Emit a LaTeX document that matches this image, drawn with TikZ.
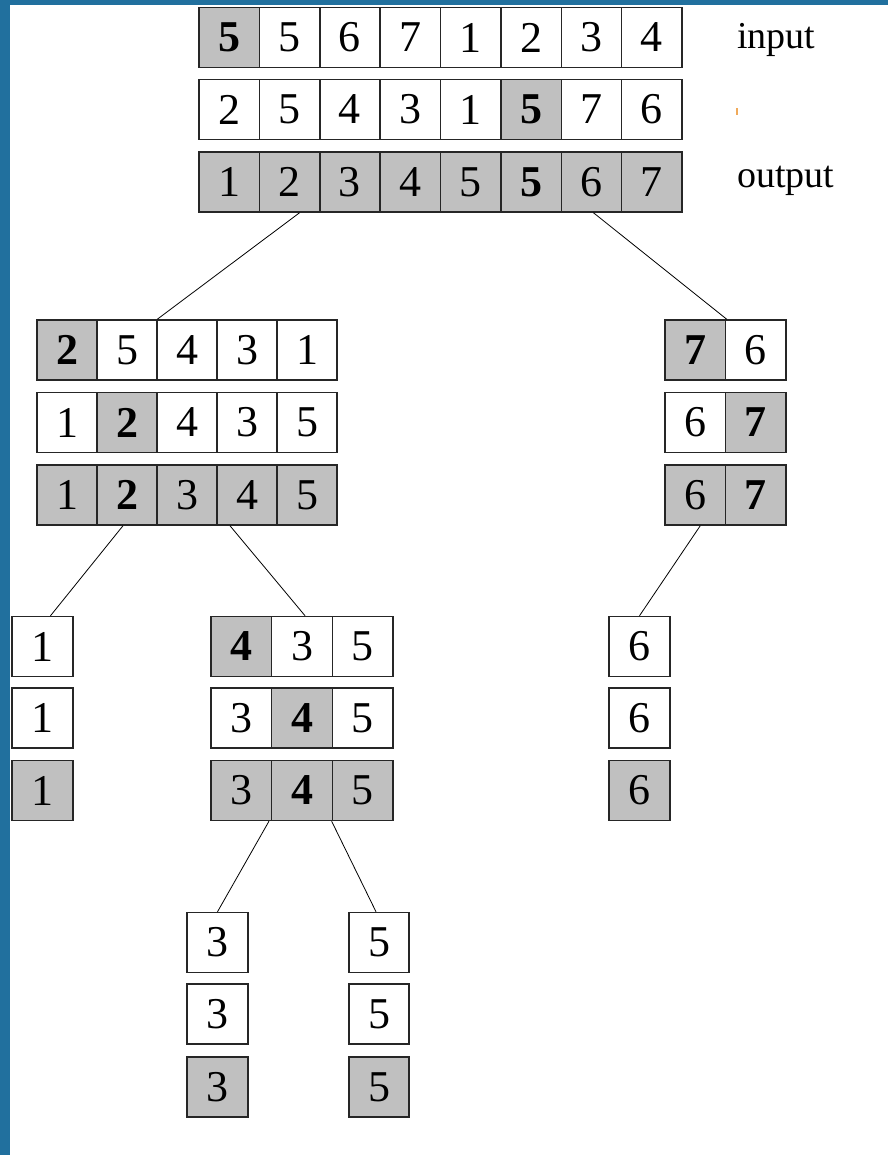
\documentclass[tikz,border=0pt]{standalone}
\usepackage{fontspec}
\setmainfont{Liberation Serif}
\definecolor{cg}{RGB}{192,192,192}
\definecolor{bgblue}{RGB}{33,112,158}
\definecolor{tickorange}{RGB}{240,170,90}
\newcommand\cellrow[5]{%
  \foreach \t/\f [count=\i from 0] in {#5} {
    \node[cell,fill=\f,minimum width=#3pt] (#1\i) at ({#2+#3*(\i+0.5)},#4) {\t};
  }%
}
\begin{document}
\begin{tikzpicture}[x=1pt,y=-1pt,
  cell/.style={draw=black!85,line width=1.5pt,minimum height=60pt,inner sep=0pt,
    font=\fontsize{44}{44}\selectfont},
  lbl/.style={anchor=base west,inner sep=0pt,font=\fontsize{38}{38}\selectfont},
  link/.style={draw=black,line width=0.8pt}]
\useasboundingbox (0,0) rectangle (888,1155);
\fill[bgblue] (0,0) rectangle (888,1155);
\fill[white] (10,5) rectangle (888,1155);
% top level
\cellrow{a}{199}{60.375}{37.5}{\textbf{5}/cg,5/white,6/white,7/white,1/white,2/white,3/white,4/white}
\cellrow{b}{199}{60.375}{109.5}{2/white,5/white,4/white,3/white,1/white,\textbf{5}/cg,7/white,6/white}
\cellrow{c}{199}{60.375}{182}{1/cg,2/cg,3/cg,4/cg,5/cg,\textbf{5}/cg,6/cg,7/cg}
\node[lbl] (inlbl) at (737,49) {input};
\node[lbl] (outlbl) at (737,188) {output};
\fill[tickorange] (736,108) rectangle (737.6,115);
% level 2 left
\cellrow{la}{37}{60}{350}{\textbf{2}/cg,5/white,4/white,3/white,1/white}
\cellrow{lb}{37}{60}{422.5}{1/white,\textbf{2}/cg,4/white,3/white,5/white}
\cellrow{lc}{37}{60}{495}{1/cg,\textbf{2}/cg,3/cg,4/cg,5/cg}
% level 2 right
\cellrow{ra}{665}{60.5}{350}{\textbf{7}/cg,6/white}
\cellrow{rb}{665}{60.5}{422.5}{6/white,\textbf{7}/cg}
\cellrow{rc}{665}{60.5}{495}{6/cg,\textbf{7}/cg}
% level 3
\cellrow{oa}{12}{61}{646.5}{1/white}
\cellrow{ob}{12}{61}{718}{1/white}
\cellrow{oc}{12}{61}{790.5}{1/cg}
\cellrow{ma}{211}{60.7}{646.5}{\textbf{4}/cg,3/white,5/white}
\cellrow{mb}{211}{60.7}{718}{3/white,\textbf{4}/cg,5/white}
\cellrow{mc}{211}{60.7}{790.5}{3/cg,\textbf{4}/cg,5/cg}
\cellrow{sa}{609}{61}{646.5}{6/white}
\cellrow{sb}{609}{61}{718}{6/white}
\cellrow{sc}{609}{61}{790.5}{6/cg}
% level 4
\cellrow{ta}{187}{61}{942.5}{3/white}
\cellrow{tb}{187}{61}{1014}{3/white}
\cellrow{tc}{187}{61}{1087}{3/cg}
\cellrow{fa}{349}{60}{942.5}{5/white}
\cellrow{fb}{349}{60}{1014}{5/white}
\cellrow{fc}{349}{60}{1087}{5/cg}
% connectors
\draw[link] ([xshift=10pt]c1.south) -- ([xshift=1pt]la2.north west);
\draw[link] ([xshift=2pt]c6.south) -- ([xshift=2pt]ra1.north west);
\draw[link] ([xshift=-4pt]lc1.south) -- ([xshift=8pt]oa0.north);
\draw[link] ([xshift=-17pt]lc3.south) -- ([xshift=3pt]ma1.north);
\draw[link] ([xshift=5pt]rc0.south) -- (sa0.north);
\draw[link] ([xshift=-2pt]mc1.south west) -- (ta0.north);
\draw[link] (mc2.south west) -- ([xshift=-3pt]fa0.north);
\end{tikzpicture}
\end{document}
